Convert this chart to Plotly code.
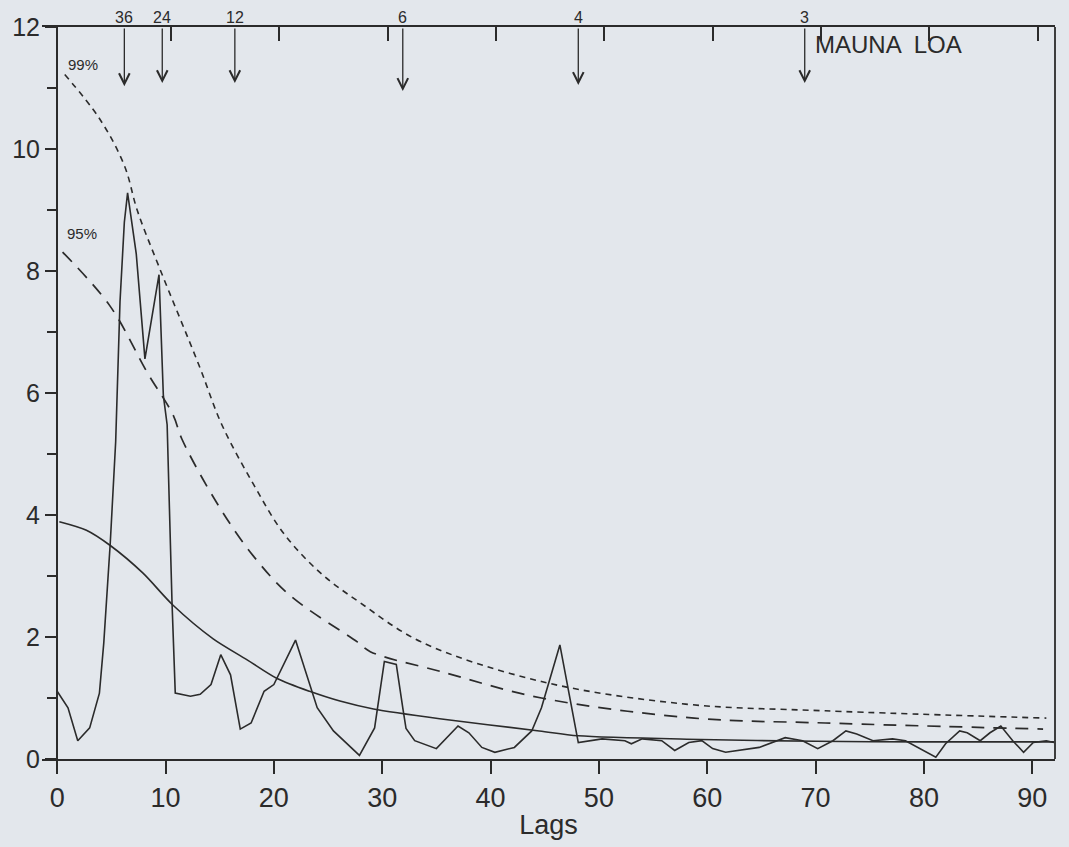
import plotly.graph_objects as go

# ---- data ----
spec_lags = [0.0, 1.0, 1.9, 3.0, 3.9, 4.3, 4.9, 5.4, 5.8, 6.2, 6.5, 7.2, 7.3, 8.1, 9.4, 9.8, 10.15, 10.6, 10.9,
             12.3, 13.2, 14.2, 15.1, 16.0, 16.9, 17.9, 19.1, 20.0, 21.3, 22.0, 24.0, 25.5, 27.9,
             29.3, 30.2, 31.3, 31.9, 32.2, 33.0, 35.0, 37.0, 38.0, 39.2, 40.4, 42.2, 43.8, 44.7, 46.4,
             48.1, 50.3, 52.4, 53.0, 54.0, 55.8, 57.0, 58.3, 59.5, 60.5, 61.7, 64.8, 67.2, 68.8, 70.2,
             71.6, 72.8, 73.8, 75.3, 77.1, 78.3, 80.2, 81.1, 82.0, 83.3, 84.0, 85.2, 86.1, 87.1, 88.2,
             89.2, 90.1, 91.3, 92.0]
spec_vals = [1.11, 0.84, 0.30, 0.51, 1.08, 1.90, 3.54, 5.20, 7.50, 8.80, 9.28, 8.39, 8.28, 6.56, 7.94, 5.96, 5.48, 2.57, 1.08,
             1.03, 1.06, 1.22, 1.71, 1.38, 0.49, 0.59, 1.11, 1.22, 1.71, 1.95, 0.84, 0.46, 0.06,
             0.51, 1.60, 1.55, 0.84, 0.50, 0.30, 0.17, 0.54, 0.43, 0.19, 0.11, 0.19, 0.46, 0.84, 1.87,
             0.27, 0.33, 0.30, 0.25, 0.33, 0.30, 0.14, 0.27, 0.30, 0.17, 0.11, 0.19, 0.35, 0.30, 0.17,
             0.30, 0.46, 0.41, 0.30, 0.33, 0.30, 0.11, 0.03, 0.25, 0.46, 0.43, 0.30, 0.43, 0.54, 0.30,
             0.11, 0.27, 0.30, 0.27]

mean_lags = [0.2, 2.7, 4.9, 7.9, 10.7, 14.4, 17.5, 20.3, 23.3, 26.1, 29.2, 35.3, 44.5, 48.1, 59.4, 70.0, 80.0, 92.0]
mean_vals = [3.89, 3.75, 3.50, 3.05, 2.52, 1.97, 1.63, 1.32, 1.11, 0.95, 0.82, 0.66, 0.46, 0.38, 0.32, 0.29, 0.28, 0.28]

c99_lags = [0.7, 3.9, 6.2, 7.4, 9.4, 13.1, 15.2, 18.1, 20.9, 24.3, 27.9, 33.6, 44.7, 58.0, 70.9, 91.3]
c99_vals = [11.22, 10.50, 9.73, 8.99, 8.07, 6.45, 5.48, 4.51, 3.70, 3.05, 2.57, 1.92, 1.27, 0.90, 0.79, 0.67]

c95_lags = [0.5, 4.9, 8.3, 10.7, 11.5, 14.8, 18.1, 21.5, 27.7, 28.9, 35.5, 44.7, 58.8, 70.9, 91.0]
c95_vals = [8.31, 7.42, 6.34, 5.64, 5.25, 4.18, 3.33, 2.68, 1.92, 1.76, 1.43, 1.00, 0.67, 0.59, 0.49]

periods = ["36", "24", "12", "6", "4", "3"]
period_lags = [6.2, 9.7, 16.4, 31.9, 48.1, 69.0]
arrow_heads = [11.03, 11.08, 11.08, 10.95, 11.05, 11.08]

x_ticks = [0, 10, 20, 30, 40, 50, 60, 70, 80, 90]
top_ticks = [10, 20, 30, 40, 50, 60, 70, 80, 90]

INK = "#2b2b2b"
BG = "#e3e7ec"
FONT = "Liberation Sans"

fig = go.Figure()
fig.add_trace(go.Scatter(x=c99_lags, y=c99_vals, mode="lines", line=dict(color=INK, width=1.6, dash="6px,5px", shape="spline"), hoverinfo="skip"))
fig.add_trace(go.Scatter(x=c95_lags, y=c95_vals, mode="lines", line=dict(color=INK, width=1.7, dash="13px,9px", shape="spline"), hoverinfo="skip"))
fig.add_trace(go.Scatter(x=mean_lags, y=mean_vals, mode="lines", line=dict(color=INK, width=1.6, shape="spline", smoothing=0.8), hoverinfo="skip"))
fig.add_trace(go.Scatter(x=spec_lags, y=spec_vals, mode="lines", line=dict(color=INK, width=1.6), hoverinfo="skip"))
# invisible trace for the top tick axis
fig.add_trace(go.Scatter(x=[top_ticks[0]], y=[0], xaxis="x2", mode="markers", marker=dict(opacity=0), hoverinfo="skip"))

annotations = []
for p, lx, hy in zip(periods, period_lags, arrow_heads):
    annotations.append(dict(x=lx, y=hy, ax=lx, ay=12, xref="x", yref="y", axref="x", ayref="y",
                            text="", showarrow=True, arrowhead=5, arrowsize=1.6, arrowwidth=1.3, arrowcolor=INK))
    annotations.append(dict(x=lx, y=1.0135, xref="x", yref="paper", text=p, showarrow=False,
                            font=dict(family=FONT, size=16, color=INK), yanchor="middle"))
annotations.append(dict(x=69.8, y=11.71, xref="x", yref="y", text="MAUNA  LOA", showarrow=False, xanchor="left",
                        font=dict(family=FONT, size=24, color=INK)))
annotations.append(dict(x=0.8, y=11.39, xref="x", yref="y", text="99%", showarrow=False, xanchor="left",
                        font=dict(family=FONT, size=15, color=INK)))
annotations.append(dict(x=0.7, y=8.62, xref="x", yref="y", text="95%", showarrow=False, xanchor="left",
                        font=dict(family=FONT, size=15, color=INK)))

fig.update_layout(
    width=1069, height=847,
    margin=dict(l=42, r=14, t=27, b=78),
    paper_bgcolor=BG, plot_bgcolor=BG,
    showlegend=False,
    font=dict(family=FONT, color=INK),
    xaxis=dict(range=[-1.4, 92.1], tickvals=x_ticks, ticks="outside", ticklen=13, tickwidth=2, tickcolor=INK,
               showline=True, linecolor=INK, linewidth=2.2, mirror=True, showgrid=False, zeroline=False,
               tickfont=dict(family=FONT, size=27, color=INK),
               title=dict(text="Lags", font=dict(family=FONT, size=27, color=INK), standoff=4)),
    xaxis2=dict(range=[-1.9, 91.6], overlaying="x", side="top", anchor="y", tickvals=top_ticks, ticks="inside",
                ticklen=14, tickwidth=1.6, tickcolor=INK, showticklabels=False, showline=False, showgrid=False,
                zeroline=False),
    yaxis=dict(range=[0, 12], anchor="free", position=0.0148, dtick=2, ticks="outside", ticklen=11, tickwidth=2,
               tickcolor=INK, showline=True, linecolor=INK, linewidth=2, showgrid=False, zeroline=False,
               minor=dict(dtick=1, ticks="outside", ticklen=9, tickwidth=1.6, tickcolor=INK),
               tickfont=dict(family=FONT, size=25, color=INK)),
    shapes=[dict(type="line", xref="paper", yref="paper", x0=1, x1=1, y0=0, y1=1, line=dict(color=INK, width=1.8))],
    annotations=annotations,
)

fig.write_html("out.html")
